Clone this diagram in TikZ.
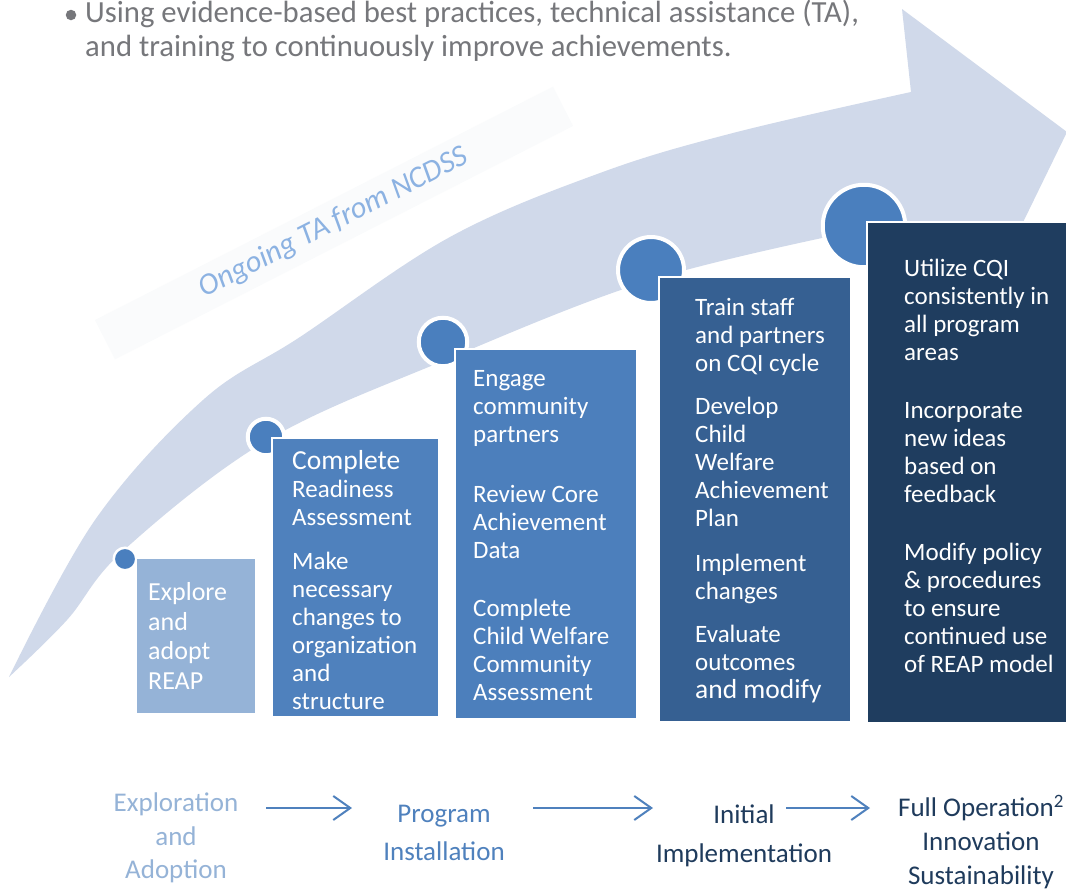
\documentclass[tikz,border=0pt]{standalone}
\usepackage{fontspec}
\setmainfont{Carlito}
\usetikzlibrary{arrows.meta}
\definecolor{bandc}{HTML}{D0D9EA}
\definecolor{faintc}{HTML}{FAFBFC}
\definecolor{tac}{HTML}{8CB2E2}
\definecolor{circc}{HTML}{4A7FBE}
\definecolor{boxa}{HTML}{95B3D7}
\definecolor{boxb}{HTML}{4F81BD}
\definecolor{boxc}{HTML}{4C7FBC}
\definecolor{boxd}{HTML}{366092}
\definecolor{boxe}{HTML}{1F3D5F}
\definecolor{topgray}{HTML}{76777B}
\definecolor{navyc}{HTML}{1F3B5C}
\begin{document}
\begin{tikzpicture}[x=1pt,y=-1pt,
  stepbox/.style={draw=white, line width=1.2pt, inner sep=0pt, outer sep=0pt, anchor=north west},
  boxtext/.style={text=white, align=left, anchor=west, inner sep=0pt, font=\fontsize{25}{28}\selectfont},
  dot/.style={circle, fill=circc, draw=white, inner sep=0pt, outer sep=0pt},
  phase/.style={align=center, inner sep=0pt, font=\fontsize{27}{33.5}\selectfont},
  flow/.style={draw=boxb, line width=2pt, -{Straight Barb[length=17pt,width=24pt]}}
]
\useasboundingbox (0,0) rectangle (1066,889);
\clip (0,0) rectangle (1066,889);
\fill[white] (0,0) rectangle (1066,889);

% top bullet text
\node[circle, fill=topgray, inner sep=0pt, minimum size=10.5pt] (bullet) at (71,15) {};
\node[anchor=west, align=left, inner sep=0pt, text=topgray, font=\fontsize{30.7}{34.5}\selectfont] (intro) at (85,31)
  {Using evidence-based best practices, technical assistance (TA),\\and training to continuously improve achievements.};

% faint label band
\node[rotate=27, fill=faintc, minimum width=514pt, minimum height=44pt, inner sep=0pt,
  text=tac, font=\fontsize{30.5}{34}\selectfont\itshape] (ta) at (334,223) {Ongoing TA from NCDSS};

% big curved arrow
\fill[bandc] plot[smooth, tension=0.6] coordinates {(9,677) (95,520) (203,400) (300,337) (450,237) (600,173) (733,133) (911,92)}
  -- (902,9) -- (1067,132) -- (990,290) -- (900,224)
  -- plot[smooth, tension=0.6] coordinates {(865,229) (651,280) (443,361) (266,441) (124,550) (67,620) (9,677)} -- cycle;

% circles
\node[dot, line width=2.5pt, minimum size=22.5pt] (c1) at (125,559) {};
\node[dot, line width=4pt, minimum size=36.5pt] (c2) at (266,437) {};
\node[dot, line width=4pt, minimum size=48.5pt] (c3) at (443,342) {};
\node[dot, line width=4pt, minimum size=66pt] (c4) at (651,270) {};
\node[dot, line width=4pt, minimum size=82.5pt] (c5) at (864,226) {};

% boxes
\node[stepbox, fill=boxa, minimum width=120pt, minimum height=156pt] (b1) at (136,558) {};
\node[stepbox, fill=boxb, minimum width=167pt, minimum height=279pt] (b2) at (272,438) {};
\node[stepbox, fill=boxc, minimum width=182pt, minimum height=370pt] (b3) at (455,349) {};
\node[stepbox, fill=boxd, minimum width=192pt, minimum height=445pt] (b4) at (659,277) {};
\node[stepbox, fill=boxe, minimum width=230pt, minimum height=501pt] (b5) at (867,222) {};

\node[boxtext, font=\fontsize{26}{29.5}\selectfont] (t1) at ([xshift=12pt]b1.west) {Explore\\and\\adopt\\REAP};
\node[boxtext] (t2) at ([xshift=20pt,yshift=-3pt]b2.west)
  {{\fontsize{27.5}{28}\selectfont Complete}\\Readiness\\Assessment\\[16pt]Make\\necessary\\changes to\\organization\\and\\structure};
\node[boxtext] (t3) at ([xshift=18pt,yshift=-2pt]b3.west)
  {Engage\\community\\partners\\[32pt]Review Core\\Achievement\\Data\\[30pt]Complete\\Child Welfare\\Community\\Assessment};
\node[boxtext] (t4) at ([xshift=36pt,yshift=-1pt]b4.west)
  {Train staff\\and partners\\on CQI cycle\\[15pt]Develop\\Child\\Welfare\\Achievement\\Plan\\[17pt]Implement\\changes\\[15pt]Evaluate\\outcomes\\{\fontsize{27.5}{28}\selectfont and modify}};
\node[boxtext] (t5) at ([xshift=37pt,yshift=7pt]b5.west)
  {Utilize CQI\\consistently in\\all program\\areas\\[30pt]Incorporate\\new ideas\\based on\\feedback\\[30pt]Modify policy\\\& procedures\\to ensure\\continued use\\of REAP model};

% phases
\node[phase, text=boxa] (p1) at (176,838) {Exploration\\and\\Adoption};
\node[phase, text=boxb, font=\fontsize{27}{38.7}\selectfont] (p2) at (444,833) {Program\\Installation};
\node[phase, text=navyc, font=\fontsize{27}{39}\selectfont] (p3) at (744,836) {Initial\\Implementation};
\node[phase, text=navyc, font=\fontsize{27}{34}\selectfont] (p4) at (981,842) {Full Operation\textsuperscript{2}\\Innovation\\Sustainability};

\coordinate (a1s) at (266,808); \coordinate (a1e) at (352,808);
\coordinate (a2s) at (533,808); \coordinate (a2e) at (653,808);
\coordinate (a3s) at (786,808); \coordinate (a3e) at (870,808);
\draw[flow] (a1s) -- (a1e);
\draw[flow] (a2s) -- (a2e);
\draw[flow] (a3s) -- (a3e);
\end{tikzpicture}
\end{document}
